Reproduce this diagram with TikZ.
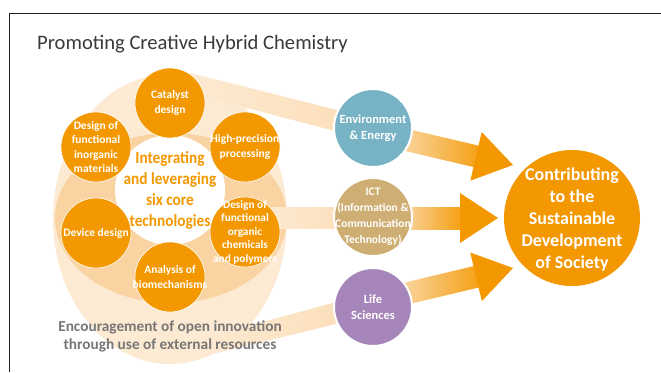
\documentclass[tikz,border=0pt]{standalone}
\usepackage{fontspec}
\setmainfont{Carlito}
\newfontfamily\condfont[FakeStretch=0.9]{Carlito}
\usetikzlibrary{calc}
\definecolor{orng}{HTML}{F39800}
\definecolor{pale}{HTML}{FDEAD2}
\definecolor{midring}{HTML}{F9D3A2}
\definecolor{envc}{HTML}{77B3C4}
\definecolor{ictc}{HTML}{CFAE73}
\definecolor{lifec}{HTML}{A686BA}
\definecolor{grayt}{HTML}{777777}
\definecolor{beamc}{HTML}{FBDDB7}
\definecolor{shaftl}{HTML}{FAD8A8}
\definecolor{titlec}{HTML}{3A3A3A}
\newcommand\flowarr[2]{%
  \coordinate (hb) at ($(#2)!38pt!(#1)$);
  \coordinate (hc) at ($(#2)!37pt!(#1)$);
  \shade[left color=shaftl, right color=orng!92!white]
    ($(#1)!11pt!90:(#2)$) -- ($(hc)!11pt!-90:(#1)$) -- ($(hc)!11pt!90:(#1)$) -- ($(#1)!11pt!-90:(#2)$) -- cycle;
  \fill[orng] ($(hb)!25pt!90:(#2)$) -- (#2) -- ($(hb)!25pt!-90:(#2)$) -- cycle;
}
\begin{document}
\begin{tikzpicture}[x=1pt,y=-1pt,
  core/.style={circle, fill=orng, draw=white, line width=0.6pt, minimum size=70pt, inner sep=0pt},
  coretext/.style={text=white, align=center, inner sep=0pt, font=\bfseries\fontsize{11.5}{14.5}\selectfont},
  field/.style={circle, draw=white, line width=2pt, minimum size=78pt, inner sep=0pt},
  fieldtext/.style={text=white, align=center, inner sep=0pt, font=\bfseries\fontsize{12.5}{16}\selectfont},
  beam/.style={left color=pale, right color=beamc}
]
\useasboundingbox (0,0) rectangle (661,372);
\fill[white] (0,0) rectangle (661,372);
% frame
\draw[line width=1pt, color=black!88] (9,372) -- (9,13.5) -- (661,13.5);
% title
\node[anchor=base west, inner sep=0pt, text=titlec, font=\fontsize{20.6}{24}\selectfont] (title) at (37,49) {Promoting Creative Hybrid Chemistry};
% background rings
\fill[pale] (170,219) ellipse [x radius=117pt, y radius=145pt];
\fill[midring] (171,218) ellipse [x radius=116pt, y radius=85pt];
% beams
\shade[beam] (190,73) -- (373,119) -- (373,141) -- (190,93) -- cycle;
\shade[beam] (255,207) -- (373,207) -- (373,228) -- (255,228) -- cycle;
\shade[beam] (200,339) -- (373,292) -- (373,315) -- (200,357) -- cycle;
% core circles
\node[circle, fill=white, minimum size=110pt, inner sep=0pt] (hub) at (170,190) {};
\node[core] (cat) at (170,103) {};
\node[core] (hpp) at (245,147) {};
\node[core] (org) at (245,232) {};
\node[core] (bio) at (170,277) {};
\node[core] (dev) at (96,233) {};
\node[core] (ino) at (96,147) {};
\node[coretext] (cat-t) at (cat) {Catalyst\\design};
\node[coretext] (hpp-t) at (hpp) {High-precision\\processing};
\node[coretext, font=\bfseries\fontsize{11.3}{13.5}\selectfont] (org-t) at (org) {Design of\\functional\\organic\\chemicals\\and polymers};
\node[coretext] (bio-t) at (bio) {Analysis of\\biomechanisms};
\node[coretext] (dev-t) at (dev) {Device design};
\node[coretext] (ino-t) at (ino) {Design of\\functional\\inorganic\\materials};
\node[text=orng, align=center, inner sep=0pt, font=\condfont\bfseries\fontsize{17}{21}\selectfont] (hub-t) at (hub) {Integrating\\and leveraging\\six core\\technologies};
% open innovation text
\node[text=grayt, align=center, inner sep=0pt, font=\bfseries\fontsize{15.3}{18}\selectfont] (open) at (170,336) {Encouragement of open innovation\\through use of external resources};
% arrows
\coordinate (a1s) at (400,138.5);
\coordinate (a1t) at (513,165);
\coordinate (a2s) at (400,218);
\coordinate (a2t) at (498,218);
\coordinate (a3s) at (400,295);
\coordinate (a3t) at (513,268);
\flowarr{a1s}{a1t}
\flowarr{a2s}{a2t}
\flowarr{a3s}{a3t}
% field circles
\node[field, fill=envc] (env) at (373,128) {};
\node[field, fill=ictc] (ict) at (373,217) {};
\node[field, fill=lifec] (life) at (373,307) {};
\node[fieldtext] (env-t) at (env) {Environment\\\&~Energy};
\node[fieldtext, font=\bfseries\fontsize{11.5}{16}\selectfont] (ict-t) at (ict) {ICT\\(Information \&\\Communication\\Technology)};
\node[fieldtext] (life-t) at (life) {Life\\Sciences};
% goal
\node[circle, fill=orng, minimum size=136pt, inner sep=0pt] (soc) at (572,218) {};
\node[text=white, align=center, inner sep=0pt, font=\bfseries\fontsize{18}{22}\selectfont] (soc-t) at (572,220) {Contributing\\to the\\Sustainable\\Development\\of Society};
\end{tikzpicture}
\end{document}
